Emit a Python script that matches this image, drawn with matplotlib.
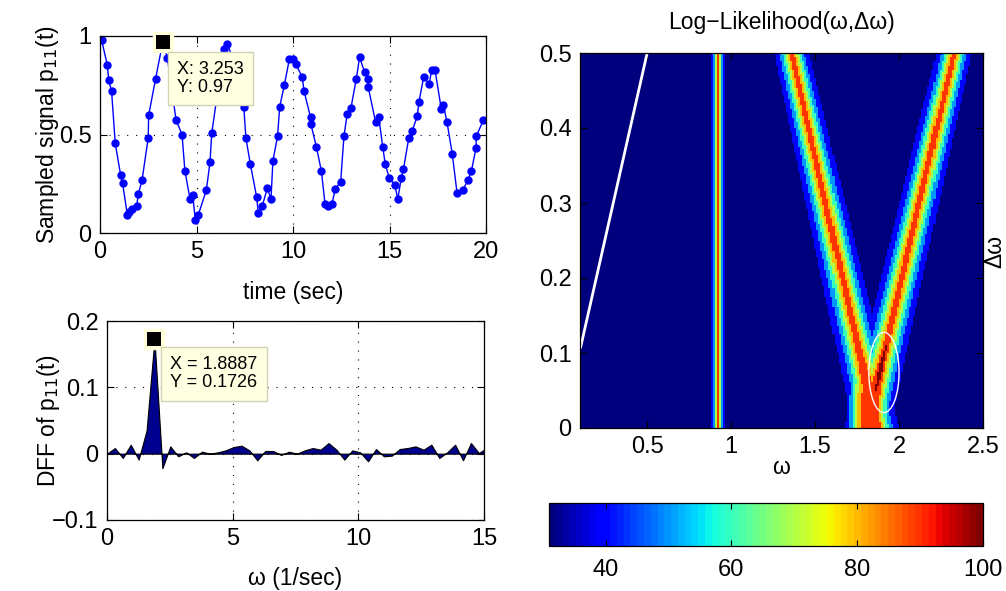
import numpy as np
import matplotlib
matplotlib.use("Agg")
import matplotlib.pyplot as plt
from matplotlib.colors import ListedColormap, BoundaryNorm, Normalize
from matplotlib.cm import ScalarMappable
from matplotlib.patches import Ellipse

plt.rcParams["font.family"] = ["Liberation Sans", "DejaVu Sans"]
plt.rcParams["font.size"] = 16.5

# sampled signal p11(t), irregular sample times
t_samp = [0.08, 0.38, 0.45, 0.60, 0.79, 1.07, 1.17, 1.42, 1.52, 1.64, 1.90, 1.99,
          2.18, 2.50, 2.52, 2.88, 3.253, 3.49, 3.94, 4.25, 4.40, 4.66, 4.80, 4.94,
          5.09, 5.51, 5.70, 5.79, 6.10, 6.42, 6.60, 6.90, 7.20, 7.45, 7.56, 7.79,
          8.12, 8.20, 8.41, 8.67, 8.86, 8.96, 9.20, 9.31, 9.55, 9.81, 9.98, 10.15,
          10.48, 10.57, 10.91, 10.93, 11.21, 11.47, 11.66, 11.83, 12.02, 12.19,
          12.47, 12.64, 12.81, 13.00, 13.28, 13.45, 13.71, 13.88, 13.90, 14.28,
          14.44, 14.65, 14.78, 14.99, 15.27, 15.43, 15.61, 15.72, 16.00, 16.18,
          16.44, 16.53, 16.77, 17.06, 17.18, 17.36, 17.68, 17.79, 17.98, 18.25,
          18.50, 18.79, 19.07, 19.24, 19.48, 19.50, 19.86]
p_samp = [0.98, 0.853, 0.775, 0.72, 0.455, 0.294, 0.252, 0.091, 0.108, 0.12, 0.139,
          0.198, 0.269, 0.484, 0.597, 0.783, 0.97, 0.89, 0.574, 0.50, 0.315, 0.175,
          0.195, 0.066, 0.091, 0.218, 0.359, 0.506, 0.72, 0.935, 0.96, 0.88, 0.75,
          0.641, 0.482, 0.35, 0.181, 0.103, 0.139, 0.227, 0.173, 0.367, 0.492,
          0.641, 0.75, 0.882, 0.882, 0.856, 0.792, 0.721, 0.587, 0.552, 0.438,
          0.315, 0.147, 0.137, 0.147, 0.225, 0.26, 0.491, 0.606, 0.633, 0.783,
          0.892, 0.817, 0.783, 0.74, 0.562, 0.59, 0.437, 0.349, 0.279, 0.245,
          0.173, 0.278, 0.323, 0.482, 0.518, 0.595, 0.667, 0.792, 0.756, 0.827,
          0.827, 0.631, 0.65, 0.562, 0.403, 0.203, 0.217, 0.269, 0.313, 0.43,
          0.492, 0.572]

# DFT of p11(t), frequency step 2*pi/19.96
dw_step = 0.31478
dft_vals = [0.0, 0.0085, -0.0065, 0.0135, -0.009, 0.035, 0.1726, -0.022, 0.011,
            -0.004, 0.002, -0.0065, 0.003, 0.0, 0.002, 0.005, 0.010, 0.012, 0.005,
            -0.010, 0.004, 0.004, -0.002, 0.003, 0.0, 0.005, 0.0085, 0.006, 0.016,
            0.006, -0.009, 0.005, 0.002, -0.0115, 0.007, -0.004, -0.003, 0.007,
            0.0085, 0.011, 0.006, 0.0135, -0.0065, 0.002, 0.0135, -0.010, 0.016,
            0.001, 0.0085]
omega_dft = np.arange(len(dft_vals)) * dw_step

# data cursor readouts
cur1 = (3.253, 0.97)
cur2 = (1.8887, 0.1726)

# log-likelihood surface features (omega, delta-omega)
left_w0, left_k = 1.86, 1.0       # left arm of the V
right_w0, right_k = 1.81, 1.03    # right arm of the V
arm_scale_top, arm_scale_grow = 0.065, 0.04
vertex_w, vertex_wscale, vertex_dscale = 1.82, 0.11, 0.09
stripe_omega, stripe_scale = 0.92, 0.024
shape_p = 1.37
ll_base, ll_amp = 30.0, 68.0
spot_dw, spot_amp = 0.08, 6.0
white_w = [0.104, 0.5]
white_dw = [0.108, 0.5]
ell_center, ell_w, ell_h = (1.91, 0.074), 0.18, 0.107
levels = [20, 40, 50, 60, 70, 80, 90, 100, 120]
cb_min, cb_max = 31, 100

W = np.linspace(0.1, 2.5, 200)
DW = np.linspace(0.0, 0.5, 180)
WW, DD = np.meshgrid(W, DW)


def prof(d, s, p=shape_p):
    return np.exp(-(np.abs(d) / s) ** p)


arm_s = arm_scale_top + arm_scale_grow * (0.5 - DD)
dR = WW - (right_w0 + right_k * DD)
fL = prof(WW - (left_w0 - left_k * DD), arm_s)
fR = prof(dR, arm_s)
arms = np.maximum(fL, fR) + 0.3 * fL * fR
vertex = prof(WW - vertex_w, vertex_wscale, 3) * np.exp(-(DD / vertex_dscale) ** 4)
stripe = prof(WW - stripe_omega, stripe_scale)
G = np.clip(np.maximum.reduce([arms, vertex, stripe]), 0, 1)
Z = ll_base + ll_amp * G
Z += spot_amp * np.exp(-(dR / 0.012) ** 2 - ((DD - spot_dw) / 0.03) ** 2)

jet = plt.get_cmap("jet", 64)
cnorm = Normalize(cb_min, cb_max)
band_cols = [plt.get_cmap("jet")(cnorm(v)) for v in [30] + levels[1:-1]]
band_cmap = ListedColormap(band_cols)
band_norm = BoundaryNorm(levels, band_cmap.N)

fig = plt.figure(figsize=(10.06, 5.91), dpi=100)
W_, H_ = 1006.0, 591.0


def box(l, t, r, b):
    return [l / W_, 1 - b / H_, (r - l) / W_, (b - t) / H_]


grid_kw = dict(color="k", linestyle=(0, (1, 7)), linewidth=0.8)
tip_kw = dict(textcoords="offset pixels", ha="left", va="top", fontsize=13,
              linespacing=1.1, zorder=7,
              bbox=dict(boxstyle="square,pad=0.5", fc="#ffffe1", ec="#d2d2b4", lw=1))

# --- top-left: sampled signal
ax1 = fig.add_axes(box(100, 36, 486, 233))
ax1.plot(t_samp, p_samp, "-o", color="b", lw=1, ms=5, mec="b", mfc="b")
ax1.set_xlim(0, 20)
ax1.set_ylim(0, 1)
ax1.set_xticks([0, 5, 10, 15, 20])
ax1.set_yticks([0, 0.5, 1])
ax1.set_yticklabels(["0", "0.5", "1"])
ax1.grid(True, **grid_kw)
ax1.set_xlabel("time (sec)")
ax1.set_ylabel("Sampled signal p$_{11}$(t)")
ax1.xaxis.set_label_coords(0.5, -0.245)
ax1.yaxis.set_label_coords(-0.10, 0.5)
ax1.plot(*cur1, "s", ms=14, mfc="#ffffdc", mec="#ffffdc", zorder=5, clip_on=False)
ax1.plot(*cur1, "s", ms=9.5, mfc="k", mec="k", mew=0, zorder=6, clip_on=False)
ax1.annotate("X: %.3f\nY: %.2f" % cur1, xy=cur1, xytext=(14, -19), **tip_kw)

# --- bottom-left: DFT
ax2 = fig.add_axes(box(107, 321, 484, 520))
ax2.fill_between(omega_dft, 0, dft_vals, facecolor="#00008f", edgecolor="k", lw=0.8)
ax2.set_xlim(0, 15)
ax2.set_ylim(-0.1, 0.2)
ax2.set_xticks([0, 5, 10, 15])
ax2.set_yticks([-0.1, 0, 0.1, 0.2])
ax2.set_yticklabels(["\u22120.1", "0", "0.1", "0.2"])
ax2.grid(True, **grid_kw)
ax2.set_axisbelow(True)
ax2.set_xlabel("\u03c9 (1/sec)")
ax2.set_ylabel("DFF of p$_{11}$(t)")
ax2.xaxis.set_label_coords(0.5, -0.235)
ax2.yaxis.set_label_coords(-0.12, 0.5)
ax2.plot(*cur2, "s", ms=14, mfc="#ffffdc", mec="#ffffdc", zorder=5, clip_on=False)
ax2.plot(*cur2, "s", ms=9.5, mfc="k", mec="k", mew=0, zorder=6, clip_on=False)
ax2.annotate("X = %.4f\nY = %.4f" % cur2, xy=cur2, xytext=(16, -17), **tip_kw)

# --- right: log-likelihood map
ax3 = fig.add_axes(box(580, 53, 983, 428))
ax3.imshow(Z, origin="lower", extent=[W[0], W[-1], DW[0], DW[-1]], aspect="auto",
           cmap=band_cmap, norm=band_norm, interpolation="nearest")
ax3.plot(white_w, white_dw, color="w", lw=2)
ax3.add_patch(Ellipse(ell_center, ell_w, ell_h, fill=False, ec="w", lw=1))
ax3.set_xlim(0.1, 2.5)
ax3.set_ylim(0, 0.5)
ax3.set_xticks([0.5, 1, 1.5, 2, 2.5])
ax3.set_xticklabels(["0.5", "1", "1.5", "2", "2.5"])
ax3.set_yticks([0, 0.1, 0.2, 0.3, 0.4, 0.5])
ax3.set_yticklabels(["0", "0.1", "0.2", "0.3", "0.4", "0.5"])
ax3.set_title("Log\u2212Likelihood(\u03c9,\u0394\u03c9)", fontsize=16.5, pad=17)
ax3.set_xlabel("\u03c9")
ax3.set_ylabel("\u0394\u03c9")
ax3.xaxis.set_label_coords(0.5, -0.075)
ax3.yaxis.set_label_coords(1.058, 0.47)

for ax in (ax1, ax2, ax3):
    ax.tick_params(direction="in", top=True, right=True, length=5, width=0.8,
                   labelsize=17, pad=6)
    for s in ax.spines.values():
        s.set_linewidth(0.9)

# --- colorbar
cax = fig.add_axes(box(549, 503, 983, 546))
cb = fig.colorbar(ScalarMappable(norm=cnorm, cmap=jet), cax=cax,
                  orientation="horizontal")
cb.set_ticks([40, 60, 80, 100])
cax.tick_params(direction="in", top=True, bottom=True, length=4, labelsize=17, pad=9)
cb.outline.set_linewidth(0.9)

fig.savefig("out.png", dpi=100)
